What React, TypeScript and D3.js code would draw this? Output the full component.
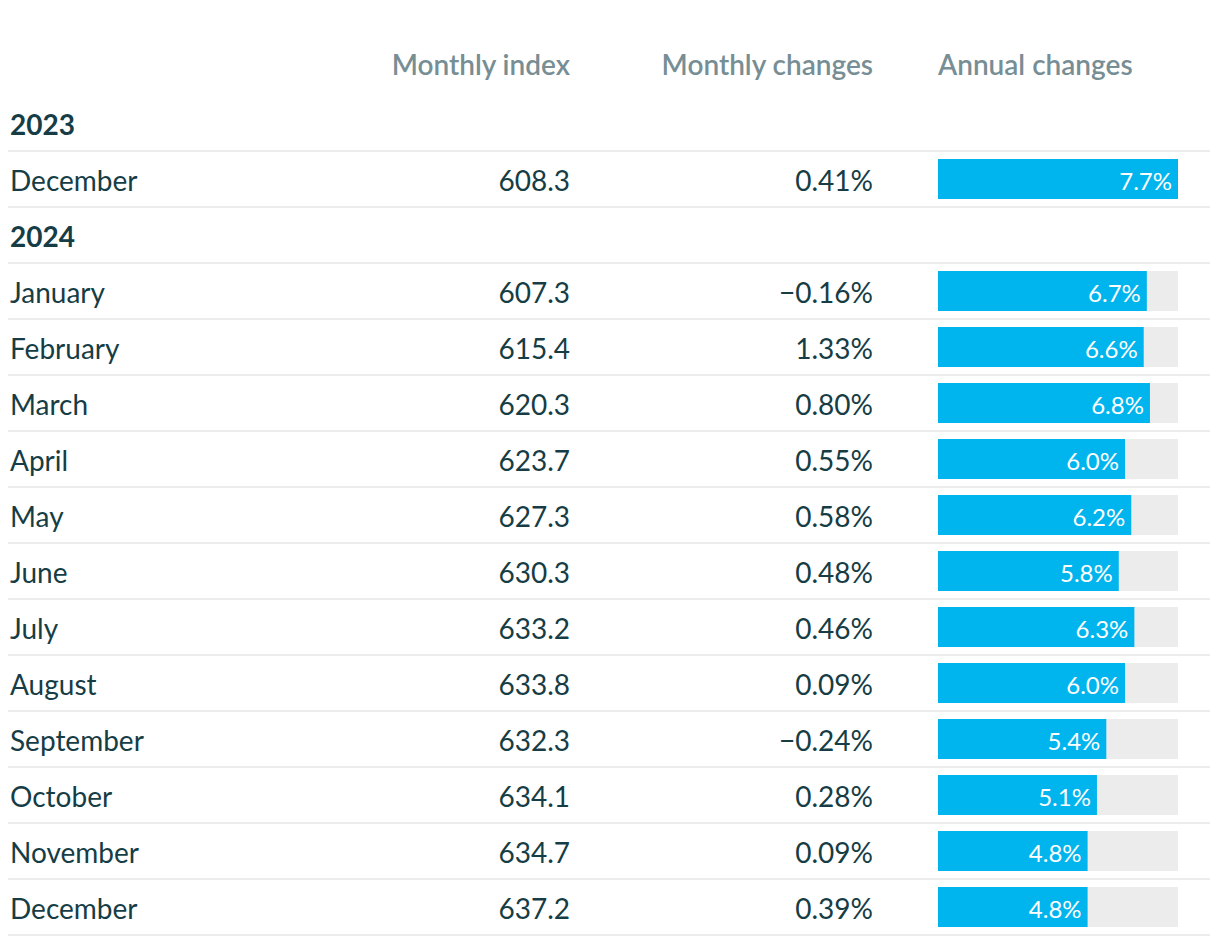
import React from "react";
import * as d3 from "d3";

const years = ["2023", "2024"];
const months2023 = ["December"];
const months2024 = ["January","February","March","April","May","June","July","August","September","October","November","December"];
const index2023 = [608.3];
const index2024 = [607.3, 615.4, 620.3, 623.7, 627.3, 630.3, 633.2, 633.8, 632.3, 634.1, 634.7, 637.2];
const monthly2023 = [0.41];
const monthly2024 = [-0.16, 1.33, 0.80, 0.55, 0.58, 0.48, 0.46, 0.09, -0.24, 0.28, 0.09, 0.39];
const annual2023 = [7.7];
const annual2024 = [6.7, 6.6, 6.8, 6.0, 6.2, 5.8, 6.3, 6.0, 5.4, 5.1, 4.8, 4.8];
const headers = ["Monthly index", "Monthly changes", "Annual changes"];

type Row = { type: "year"; label: string } | { type: "data"; label: string; index: number; monthly: number; annual: number };

const rows: Row[] = [];
rows.push({ type: "year", label: years[0] });
months2023.forEach((m, i) => rows.push({ type: "data", label: m, index: index2023[i], monthly: monthly2023[i], annual: annual2023[i] }));
rows.push({ type: "year", label: years[1] });
months2024.forEach((m, i) => rows.push({ type: "data", label: m, index: index2024[i], monthly: monthly2024[i], annual: annual2024[i] }));

const W = 1220, H = 946;
const rowTop = 95, rowH = 56;
const lineX0 = 8, lineX1 = 1210;
const labelX = 10;
const col1Right = 570, col2Right = 873;
const barX0 = 938, barX1 = 1178, barH = 40;
const maxAnnual = d3.max([...annual2023, ...annual2024]) as number;

const dark = "#163d45";
const headGray = "#778e94";
const font = "Lato, 'Noto Sans', sans-serif";

const fmtPct = (v: number) => (v < 0 ? "\u2212" : "") + d3.format(".2f")(Math.abs(v)) + "%";

export default function App() {
  const x = d3.scaleLinear().domain([0, maxAnnual]).range([barX0, barX1]);
  const y = d3.scaleBand<number>().domain(rows.map((_, i) => i)).range([rowTop, rowTop + rows.length * rowH]);
  return (
    <svg width={W} height={H} style={{ position: "absolute", left: 0, top: 0, display: "block", background: "#fff" }} fontFamily={font}>
      <g fontSize={28} fontWeight={600} fill={headGray}>
        <text x={col1Right} y={64} textAnchor="end" dominantBaseline="central">{headers[0]}</text>
        <text x={col2Right} y={64} textAnchor="end" dominantBaseline="central">{headers[1]}</text>
        <text x={barX0} y={64} textAnchor="start" dominantBaseline="central">{headers[2]}</text>
      </g>
      {rows.map((r, i) => {
        const top = y(i) as number;
        const cy = top + rowH / 2;
        return (
          <g key={i}>
            <line x1={lineX0} x2={lineX1} y1={top + rowH} y2={top + rowH} stroke="#ececec" strokeWidth={2} />
            {r.type === "year" ? (
              <text x={labelX} y={cy + 0.5} fontSize={28} fontWeight={700} fill={dark} dominantBaseline="central">{r.label}</text>
            ) : (
              <g fontSize={28} fill={dark}>
                <text x={labelX} y={cy + 0.5} dominantBaseline="central">{r.label}</text>
                <text x={col1Right} y={cy + 0.5} textAnchor="end" dominantBaseline="central">{d3.format(".1f")(r.index)}</text>
                <text x={col2Right} y={cy + 0.5} textAnchor="end" dominantBaseline="central">{fmtPct(r.monthly)}</text>
                <rect x={barX0} y={cy - barH / 2} width={barX1 - barX0} height={barH} fill="#ececec" />
                <rect x={barX0} y={cy - barH / 2} width={x(r.annual) - barX0} height={barH} fill="#00b5ee" />
                <text x={x(r.annual) - 6} y={cy + 1} textAnchor="end" dominantBaseline="central" fill="#fff" fontSize={24}>{d3.format(".1f")(r.annual) + "%"}</text>
              </g>
            )}
          </g>
        );
      })}
    </svg>
  );
}
